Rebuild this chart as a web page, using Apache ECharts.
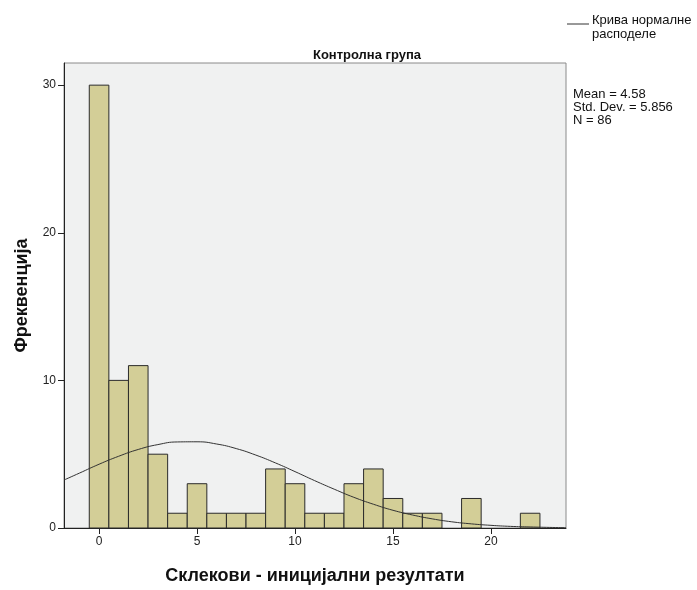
<!DOCTYPE html>
<html>
<head>
<meta charset="utf-8">
<script src="https://cdn.jsdelivr.net/npm/echarts@6/dist/echarts.min.js"></script>
<style>html,body{margin:0;padding:0;background:#fff;}#c{width:697px;height:590px;}</style>
</head>
<body>
<div id="c"></div>
<script>
// Histogram bins (bin centers) and frequencies
var binCenters = [0,1,2,3,4,5,6,7,8,9,10,11,12,13,14,15,16,17,18,19,20,21,22];
var frequencies = [30,10,11,5,1,3,1,1,1,4,3,1,1,3,4,2,1,1,0,2,0,0,1];
// Normal curve points
var curveX = [-1.79,-1,0,1,2,3,4,5,6,7,8,9,10,11,12,13,14,15,16,17,18,19,20,21,22,23,23.83];
var curveY = [3.25,3.72,4.32,4.86,5.32,5.65,5.83,5.84,5.69,5.38,4.94,4.41,3.82,3.21,2.63,2.08,1.61,1.20,0.88,0.62,0.42,0.28,0.18,0.11,0.07,0.04,0.02];
var xTicks = [0,5,10,15,20];
var yTicks = [0,10,20,30];
var titleText = 'Контролна група';
var xName = 'Склекови - иницијални резултати';
var yName = 'Фреквенција';
var legendLines = ['Крива нормалне','расподеле'];
var statsLines = ['Mean = 4.58','Std. Dev. = 5.856','N = 86'];

var barData = binCenters.map(function(c,i){return [c, frequencies[i]];}).filter(function(d){return d[1]>0;});
var curveData = curveX.map(function(x,i){return [x, curveY[i]];});

var chart = echarts.init(document.getElementById('c'));
var font = 'Liberation Sans, Arial, sans-serif';
chart.setOption({
  animation:false,
  textStyle:{fontFamily:font},
  title:{text:titleText,left:362,top:44,textAlign:'center',textStyle:{fontSize:13,fontWeight:'bold',color:'#111',fontFamily:font}},
  grid:{left:64,top:63,right:131,bottom:55,show:true,backgroundColor:'#f0f1f1',borderColor:'#8a8a8a',borderWidth:1},
  xAxis:{type:'value',min:-1.79,max:23.83,
    name:xName,nameLocation:'middle',nameGap:39,nameTextStyle:{fontSize:18,fontWeight:'bold',color:'#111',fontFamily:font},
    axisLine:{show:true,onZero:false,lineStyle:{color:'#222',width:1}},
    axisTick:{show:true,length:6,lineStyle:{color:'#222'},customValues:xTicks},
    axisLabel:{color:'#222',fontSize:12,margin:8,customValues:xTicks},
    splitLine:{show:false}},
  yAxis:{type:'value',min:0,max:31.5,
    name:yName,nameLocation:'middle',nameGap:33,nameTextStyle:{fontSize:18,fontWeight:'bold',color:'#111',fontFamily:font},
    axisLine:{show:true,onZero:false,lineStyle:{color:'#222',width:1}},
    axisTick:{show:true,length:6,lineStyle:{color:'#222'},customValues:yTicks},
    axisLabel:{color:'#222',fontSize:12,margin:8,customValues:yTicks},
    splitLine:{show:false}},
  series:[
    {type:'custom',name:'Frequency',data:barData,
     renderItem:function(params,api){
       var x=api.value(0), y=api.value(1);
       var p0=api.coord([x-0.5,y]);
       var p1=api.coord([x+0.5,0]);
       return {type:'rect',shape:{x:p0[0],y:p0[1],width:p1[0]-p0[0],height:p1[1]-p0[1]},
         style:{fill:'#d3ce97',stroke:'#2b2b2b',lineWidth:1}};
     },
     encode:{x:0,y:1},z:2},
    {type:'line',name:'Крива нормалне расподеле',data:curveData,smooth:true,showSymbol:false,
     lineStyle:{color:'#333',width:1},z:3}
  ],
  graphic:[
    {type:'line',shape:{x1:567,y1:24,x2:589,y2:24},style:{stroke:'#333',lineWidth:1}},
    {type:'text',left:592,top:13,style:{text:legendLines.join('\n'),fontSize:13,lineHeight:14,fill:'#111',fontFamily:font}},
    {type:'text',left:573,top:88,style:{text:statsLines.join('\n'),fontSize:13,lineHeight:13,fill:'#111',fontFamily:font}}
  ]
});
</script>
</body>
</html>
